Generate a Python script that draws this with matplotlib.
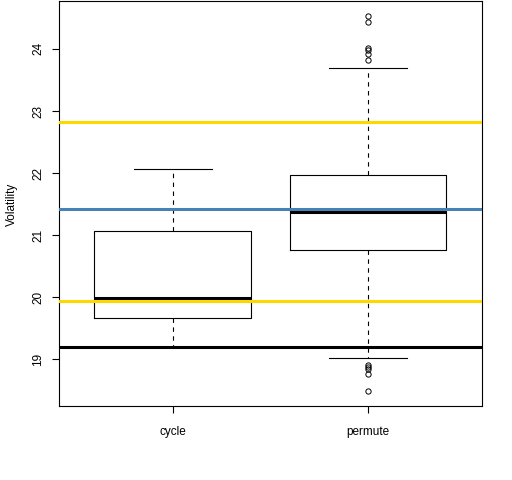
import matplotlib
matplotlib.use("Agg")
import matplotlib.pyplot as plt

# box statistics
groups = ["cycle", "permute"]
whislo = [19.20, 19.02]
q1 = [19.66, 20.755]
med = [19.99, 21.377]
q3 = [21.06, 21.963]
whishi = [22.06, 23.686]
fliers = [[], [24.535, 24.43, 24.02, 23.98, 23.92, 23.82,
               18.91, 18.88, 18.84, 18.77, 18.49]]

# reference lines
hlines = [22.83, 21.415, 19.934, 19.193]
hcolors = ["gold", "steelblue", "gold", "black"]

plt.rcParams['font.family'] = ['Liberation Sans', 'DejaVu Sans']

fig = plt.figure(figsize=(5.12, 4.8), dpi=100)
ax = fig.add_axes([0.1158, 0.1535, 0.825, 0.8435])

stats = []
for i in range(len(groups)):
    stats.append(dict(label=groups[i], whislo=whislo[i], q1=q1[i], med=med[i],
                      q3=q3[i], whishi=whishi[i], fliers=fliers[i]))

ax.bxp(stats, positions=[1, 2], widths=0.8,
       boxprops=dict(color="black", lw=0.8),
       medianprops=dict(color="black", lw=2.2, solid_capstyle="butt"),
       whiskerprops=dict(color="black", lw=0.8, linestyle=(0, (4, 4))),
       capprops=dict(color="black", lw=0.8),
       flierprops=dict(marker="o", markerfacecolor="none", markeredgecolor="black",
                       markersize=3.8, markeredgewidth=0.7),
       capwidths=0.4)

for v, c in zip(hlines, hcolors):
    ax.axhline(v, color=c, lw=2.2, zorder=5)

ax.set_xlim(0.42, 2.58)
ax.set_ylim(18.243, 24.765)
ax.set_yticks([19, 20, 21, 22, 23, 24])
ax.set_yticklabels(["19", "20", "21", "22", "23", "24"], rotation=90, va="center")
ax.set_xticks([1, 2])
ax.set_xticklabels(groups)
ax.tick_params(labelsize=8.5, length=5, width=0.8)
ax.tick_params(axis="y", pad=6)
ax.tick_params(axis="x", pad=9)
ax.set_ylabel("Volatility", fontsize=8.5, labelpad=12)
ax.yaxis.set_label_coords(-0.098, 0.5)
for s in ax.spines.values():
    s.set_linewidth(0.8)

fig.savefig("out.png", dpi=100)
